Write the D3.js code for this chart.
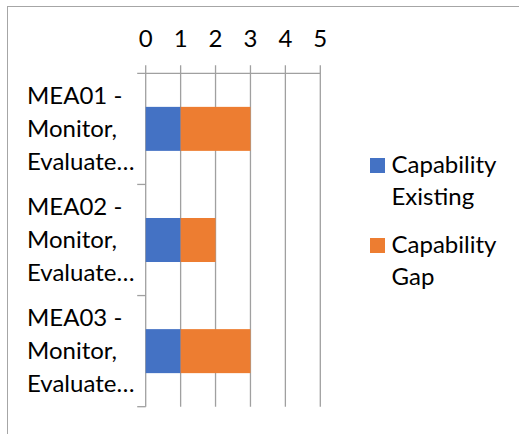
<!DOCTYPE html>
<html>
<head>
<meta charset="utf-8">
<script src="https://cdn.jsdelivr.net/npm/d3@7"></script>
<style>
  body { margin: 0; background: #fff; }
  svg text { font-family: "Lato", "Open Sans", sans-serif; fill: #000; }
</style>
</head>
<body>
<div id="chart"></div>
<script>
//----------------------------
// Data
//----------------------------
var categories = ["MEA01", "MEA02", "MEA03"];
var labelLines = [
    ["MEA01 -", "Monitor,", "Evaluate…"],
    ["MEA02 -", "Monitor,", "Evaluate…"],
    ["MEA03 -", "Monitor,", "Evaluate…"]
];
var existing = [1, 1, 1];
var gap = [2, 1, 2];
var seriesNames = [["Capability", "Existing"], ["Capability", "Gap"]];
var seriesColors = ["#4472C4", "#ED7D31"];
var tickValues = [0, 1, 2, 3, 4, 5];

//----------------------------
// Chart
//----------------------------
var w = 519, h = 434;
var fontSize = 24;

var svg = d3.select("#chart")
    .append("svg")
    .attr("width", w)
    .attr("height", h);

// outer frame (right and bottom edges are cut off in the picture)
svg.append("rect")
    .attr("x", 7.5).attr("y", 6.5)
    .attr("width", w + 10).attr("height", h + 10)
    .attr("fill", "none")
    .attr("stroke", "#a6a6a6");

var x = d3.scaleLinear()
    .domain([0, 5])
    .range([145.7, 320.3]);

var y = d3.scaleBand()
    .domain(categories)
    .range([73.3, 406.7])
    .paddingInner(0.604)
    .paddingOuter(0.302);

var top0 = y.range()[0], bottom0 = y.range()[1];
var gridColor = "#a0a0a0";

// vertical gridlines + top ticks
svg.append("g")
    .selectAll("line")
    .data(tickValues)
    .enter()
    .append("line")
    .attr("x1", d => x(d)).attr("x2", d => x(d))
    .attr("y1", top0 - 8).attr("y2", bottom0)
    .attr("stroke", gridColor)
    .attr("stroke-width", 1.3);

// top axis line
svg.append("line")
    .attr("x1", x(0) - 8.5).attr("x2", x(5))
    .attr("y1", top0).attr("y2", top0)
    .attr("stroke", gridColor).attr("stroke-width", 1.3);

// left category ticks
var boundaries = categories.map((c, i) => top0 + i * y.step()).concat([bottom0]);
svg.append("g")
    .selectAll("line")
    .data(boundaries.slice(1))
    .enter()
    .append("line")
    .attr("x1", x(0) - 8.5).attr("x2", x(0))
    .attr("y1", d => d).attr("y2", d => d)
    .attr("stroke", gridColor).attr("stroke-width", 1.3);

// tick labels
svg.append("g")
    .selectAll("text")
    .data(tickValues)
    .enter()
    .append("text")
    .attr("x", d => x(d))
    .attr("y", 46.5)
    .attr("text-anchor", "middle")
    .attr("font-size", fontSize)
    .text(d => d);

// stacked bars
var rows = categories.map((c, i) => ({ cat: c, vals: [existing[i], gap[i]] }));
rows.forEach(function (r) {
    var start = 0;
    r.vals.forEach(function (v, j) {
        svg.append("rect")
            .attr("x", x(start))
            .attr("y", y(r.cat))
            .attr("width", x(start + v) - x(start))
            .attr("height", y.bandwidth())
            .attr("fill", seriesColors[j]);
        start += v;
    });
});

// category labels
categories.forEach(function (c, i) {
    var mid = y(c) + y.bandwidth() / 2;
    var t = svg.append("text")
        .attr("font-size", fontSize)
        .attr("x", 27);
    labelLines[i].forEach(function (line, k) {
        t.append("tspan")
            .attr("x", 27)
            .attr("y", mid + 8 + (k - 1) * 32.7)
            .text(line);
    });
});

// legend
var legend = svg.append("g");
seriesNames.forEach(function (name, i) {
    var ly = 158 + i * 80;
    legend.append("rect")
        .attr("x", 370).attr("y", ly)
        .attr("width", 15).attr("height", 15)
        .attr("fill", seriesColors[i]);
    name.forEach(function (line, k) {
        legend.append("text")
            .attr("x", 391.5)
            .attr("y", ly + 15 + k * 31.5)
            .attr("font-size", fontSize)
            .text(line);
    });
});
</script>
</body>
</html>
